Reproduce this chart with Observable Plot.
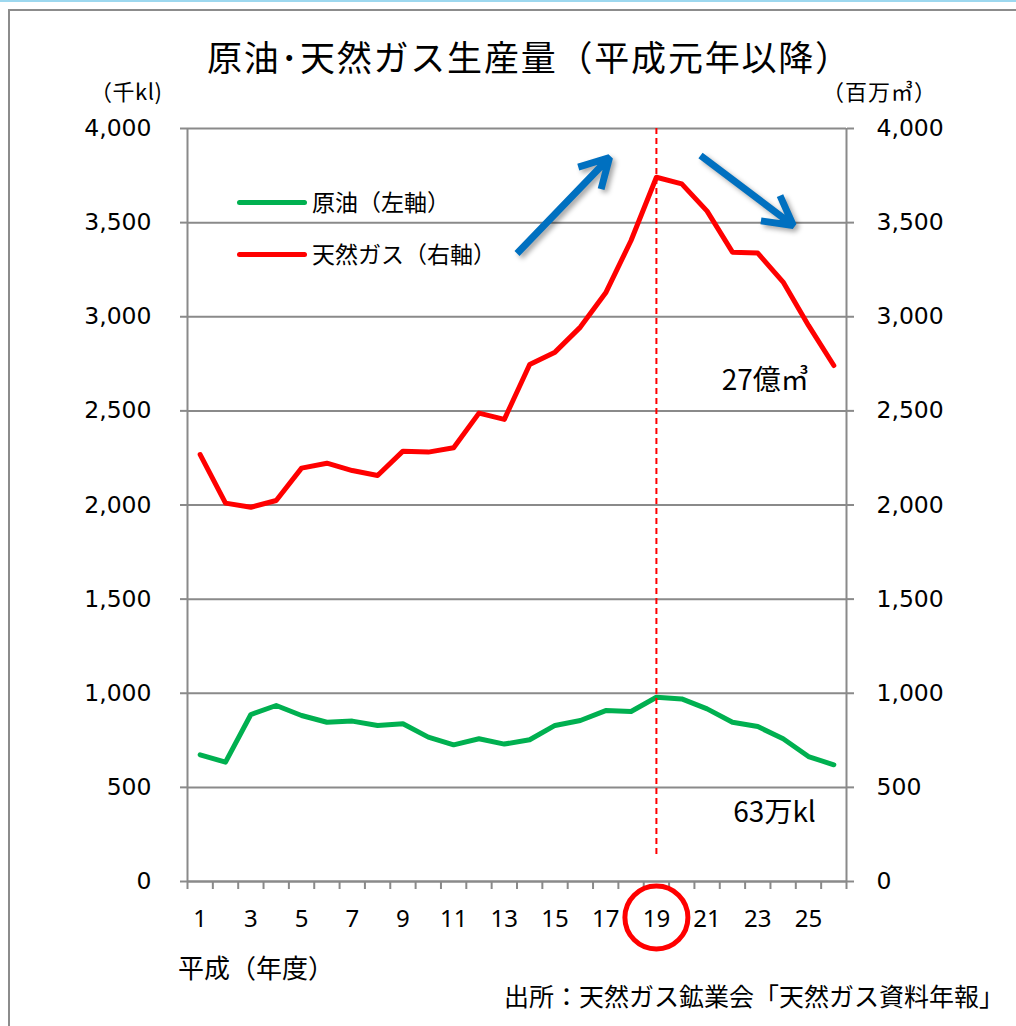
<!DOCTYPE html>
<html>
<head>
<meta charset="utf-8">
<script src="https://cdn.jsdelivr.net/npm/d3@7"></script>
<script src="https://cdn.jsdelivr.net/npm/@observablehq/plot@0.6"></script>
<style>
html, body { margin: 0; padding: 0; background: #fff; }
#root { position: relative; width: 1016px; height: 1026px; overflow: hidden; background: #fff;
  font-family: "Noto Sans CJK JP", "Noto Sans", sans-serif; color: #000; }
.abs { position: absolute; white-space: nowrap; line-height: 1; }
#topline { left: 0; top: 0; width: 1016px; height: 2px; background: #9dd8ef; }
#frame { left: 8px; top: 9px; width: 1200px; height: 1200px; border: 2px solid #8c8c8c; box-sizing: border-box; }
#chart { position: absolute; left: 0; top: 0; }
#title { left: 207px; top: 38px; font-size: 35px; letter-spacing: 1.8px; }
#unitL { left: 90px; top: 79px; font-size: 22px; letter-spacing: 0.5px; }
#unitR { left: 822px; top: 79px; font-size: 22px; letter-spacing: 1px; }
#xtitle { left: 178px; top: 954px; font-size: 26px; }
#source { right: 12px; top: 983px; font-size: 25px; }
.lgline { position: absolute; width: 70px; height: 5px; border-radius: 3px; }
.lgtext { font-size: 23px; }
</style>
</head>
<body>
<div id="root">
  <div id="topline" class="abs"></div>
  <div id="frame" class="abs"></div>
  <div id="chart"></div>
  <div id="title" class="abs">原油･天然ガス生産量（平成元年以降）</div>
  <div id="unitL" class="abs">（千kl)</div>
  <div id="unitR" class="abs">（百万㎥）</div>
  <div id="xtitle" class="abs">平成（年度）</div>
  <div id="source" class="abs">出所：天然ガス鉱業会「天然ガス資料年報」</div>
  <div class="lgline" style="left:237px;top:200px;background:#00B050;"></div>
  <div class="abs lgtext" style="left:312px;top:190px;">原油（左軸）</div>
  <div class="lgline" style="left:237px;top:252px;background:#FF0000;"></div>
  <div class="abs lgtext" style="left:312px;top:242px;">天然ガス（右軸）</div>
</div>
<script>
// Fiscal years (Heisei 1 .. 26)
const years = d3.range(1, 27);
// Crude oil production (thousand kl), left axis
const oil = [673, 634, 887, 935, 882, 846, 852, 829, 838, 767, 726, 758, 730,
             753, 829, 855, 908, 903, 979, 970, 917, 846, 823, 758, 664, 620];
// Natural gas production (million m3), right axis
const gas = [2268, 2010, 1988, 2024, 2196, 2222, 2183, 2157, 2286, 2281, 2304, 2488, 2455,
             2746, 2812, 2945, 3127, 3405, 3741, 3706, 3561, 3343, 3338, 3184, 2954, 2741];
// Axis ticks
const yTicks = d3.range(0, 4001, 500);
const xLabelTicks = d3.range(1, 27, 2);
const xBoundaryTicks = d3.range(0.5, 27, 1);
// Highlighted year
const peakYear = 19;
// Trend arrows (year position, value)
const arrowX1 = [13.50, 20.74];
const arrowY1 = [3336, 3857];
const arrowX2 = [17.15, 24.40];
const arrowY2 = [3846, 3485];
// End-value annotations
const gasNote = "27億㎥";
const oilNote = "63万kl";

const data = years.map((y, i) => ({year: y, oil: oil[i], gas: gas[i]}));
const arrows = arrowX1.map((x, i) => ({x1: x, y1: arrowY1[i], x2: arrowX2[i], y2: arrowY2[i]}));
const last = data[data.length - 1];

const gray = "#8a8a8a";
const svg = Plot.plot({
  width: 1016,
  height: 1026,
  marginTop: 128,
  marginBottom: 145,
  marginLeft: 187,
  marginRight: 170,
  style: {background: "transparent", overflow: "visible"},
  x: {type: "linear", domain: [0.5, 26.5]},
  y: {domain: [0, 4000]},
  marks: [
    Plot.gridY({ticks: yTicks, stroke: gray, strokeOpacity: 1, strokeWidth: 2}),
    Plot.ruleX([0.5, 26.5], {stroke: gray, strokeWidth: 2}),
    Plot.ruleY([0], {stroke: gray, strokeWidth: 2}),
    Plot.axisY({anchor: "left", ticks: yTicks, tickSize: 7, tickPadding: 29, tickFormat: d3.format(","),
      stroke: gray, strokeWidth: 2, fill: "#000", fontSize: 23.5, fontFamily: "DejaVu Sans", label: null}),
    Plot.axisY({anchor: "right", ticks: yTicks, tickSize: 7, tickPadding: 23, tickFormat: d3.format(","),
      stroke: gray, strokeWidth: 2, fill: "#000", fontSize: 23.5, fontFamily: "DejaVu Sans", label: null}),
    Plot.axisX({ticks: xBoundaryTicks, tickSize: 8, tickFormat: () => "", stroke: gray, strokeWidth: 2, label: null}),
    Plot.axisX({ticks: xLabelTicks, tickSize: 0, tickPadding: 28, tickFormat: d => String(d),
      fill: "#000", fontSize: 24, fontFamily: "Noto Sans", label: null}),
    Plot.line(data, {x: "year", y: "oil", stroke: "#00B050", strokeWidth: 5, strokeLinejoin: "round", strokeLinecap: "round"}),
    Plot.line(data, {x: "year", y: "gas", stroke: "#FF0000", strokeWidth: 5, strokeLinejoin: "round", strokeLinecap: "round"}),
    Plot.ruleX([peakYear], {insetBottom: 23, stroke: "#FF0000", strokeWidth: 2, strokeDasharray: "6,4"}),
    Plot.arrow(arrows, {x1: "x1", y1: "y1", x2: "x2", y2: "y2", stroke: "#0070C0", strokeWidth: 7,
      headLength: 7, headAngle: 58, strokeLinecap: "butt", strokeLinejoin: "miter"}),
    Plot.dot([peakYear], {x: d => d, frameAnchor: "bottom", dy: 36, r: 31.5, stroke: "#FF0000", strokeWidth: 5, fill: "none"}),
    Plot.text([last], {x: "year", y: "gas", text: () => gasNote, textAnchor: "end", dx: -25, dy: 16,
      fontSize: 28, fontFamily: "Noto Sans CJK JP", fill: "#000"}),
    Plot.text([last], {x: "year", y: "oil", text: () => oilNote, textAnchor: "end", dx: -18, dy: 48,
      fontSize: 28, fontFamily: "Noto Sans CJK JP", fill: "#000"})
  ]
});
const arrowG = svg.querySelector('g[aria-label="arrow"]');
if (arrowG) arrowG.style.filter = "drop-shadow(3px 3px 2.5px rgba(0,0,0,0.35))";
document.getElementById("chart").appendChild(svg);
</script>
</body>
</html>
